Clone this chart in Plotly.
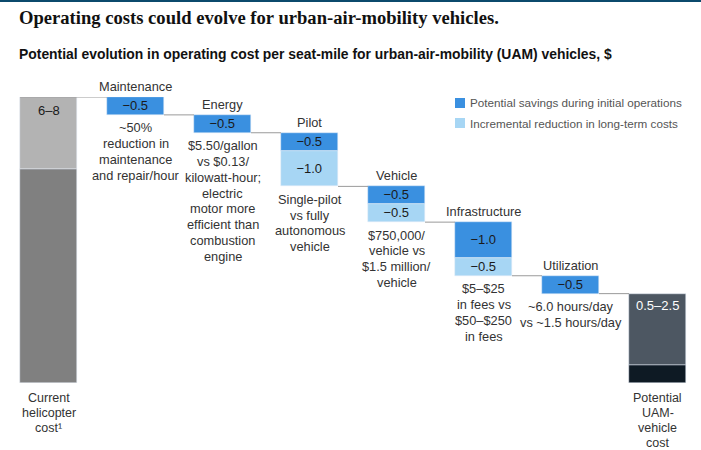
import plotly.graph_objects as go

# ---------------- data ----------------
step_names = ["Maintenance", "Energy", "Pilot", "Vehicle", "Infrastructure", "Utilization"]
initial_savings = [0.5, 0.5, 0.5, 0.5, 1.0, 0.5]      # potential savings during initial operations
longterm_savings = [0.0, 0.0, 1.0, 0.5, 0.5, 0.0]     # incremental reduction in long-term costs
current_low, current_high = 6, 8
potential_low, potential_high = 0.5, 2.5
current_label = "6–8"
potential_label = "0.5–2.5"
end_labels = [["Current", "helicopter", "cost¹"], ["Potential", "UAM-", "vehicle", "cost"]]
step_notes = [
    ["~50%", "reduction in", "maintenance", "and repair/hour"],
    ["$5.50/gallon", "vs $0.13/", "kilowatt-hour;", "electric", "motor more", "efficient than", "combustion", "engine"],
    ["Single-pilot", "vs fully", "autonomous", "vehicle"],
    ["$750,000/", "vehicle vs", "$1.5 million/", "vehicle"],
    ["$5–$25", "in fees vs", "$50–$250", "in fees"],
    ["~6.0 hours/day", "vs ~1.5 hours/day"],
]
legend_names = ["Potential savings during initial operations", "Incremental reduction in long-term costs"]
title_text = "Operating costs could evolve for urban-air-mobility vehicles."
subtitle_text = "Potential evolution in operating cost per seat-mile for urban-air-mobility (UAM) vehicles, $"

# ---------------- styles ----------------
C_DARK = "#3a90e0"
C_LIGHT = "#a7d6f4"
C_GRAY_D = "#808080"
C_GRAY_L = "#b3b3b3"
C_SLATE = "#4d5762"
C_NAVY = "#0e1a24"
TXT = "#333333"
FONT = "Liberation Sans, Arial, sans-serif"
FS = 12.8
W = 0.655
n_steps = len(step_names)
x_steps = list(range(1, n_steps + 1))
x_end = n_steps + 1

def fmt(v):
    return "−" + f"{v:.1f}"

# cumulative levels
tops, dark_base, light_base, bottoms = [], [], [], []
level = current_high
for s, l in zip(initial_savings, longterm_savings):
    tops.append(level)
    dark_base.append(level - s)
    light_base.append(level - s - l)
    level = level - s - l
    bottoms.append(level)

fig = go.Figure()
# current helicopter cost
fig.add_bar(x=[0], y=[current_low], base=[0], marker_color=C_GRAY_D, width=W, showlegend=False, hoverinfo="skip")
fig.add_bar(x=[0], y=[current_high - current_low], base=[current_low], marker_color=C_GRAY_L, width=W, showlegend=False, hoverinfo="skip")
# potential UAM cost
fig.add_bar(x=[x_end], y=[potential_low], base=[0], marker_color=C_NAVY, width=W, showlegend=False, hoverinfo="skip")
fig.add_bar(x=[x_end], y=[potential_high - potential_low], base=[potential_low], marker_color=C_SLATE, width=W, showlegend=False, hoverinfo="skip")
# initial savings
fig.add_bar(x=x_steps, y=initial_savings, base=dark_base, marker_color=C_DARK, width=W,
            text=[fmt(v) for v in initial_savings], textposition="inside", insidetextanchor="middle",
            constraintext="none", textangle=0,
            textfont=dict(size=13, color="#1a1a1a", family=FONT), name=legend_names[0], showlegend=False, hoverinfo="skip")
# long-term savings
lx = [x for x, l in zip(x_steps, longterm_savings) if l > 0]
ly = [l for l in longterm_savings if l > 0]
lb = [b for b, l in zip(light_base, longterm_savings) if l > 0]
fig.add_bar(x=lx, y=ly, base=lb, marker_color=C_LIGHT, width=W,
            text=[fmt(v) for v in ly], textposition="inside", insidetextanchor="middle",
            constraintext="none", textangle=0,
            textfont=dict(size=13, color="#1a1a1a", family=FONT), name=legend_names[1], showlegend=False, hoverinfo="skip")

shapes = []
# connectors
for i, t in zip(x_steps, tops):
    shapes.append(dict(type="line", xref="x", yref="y", x0=i - 1 + W / 2, x1=i - W / 2, y0=t, y1=t,
                       line=dict(color="#9a9a9a", width=1)))
shapes.append(dict(type="line", xref="x", yref="y", x0=n_steps + W / 2, x1=x_end - W / 2,
                   y0=potential_high, y1=potential_high, line=dict(color="#9a9a9a", width=1)))
shapes.append(dict(type="line", xref="x", yref="y", x0=-W / 2, x1=W / 2,
                   y0=current_high, y1=current_high, line=dict(color="#9a9a9a", width=1)))

annotations = []

def add_lines(x, y, lines, first, step, size, color):
    for k, ln in enumerate(lines):
        annotations.append(dict(x=x, y=y, xref="x", yref="y", text=ln, showarrow=False,
                                yanchor="middle", yshift=-(first + k * step),
                                font=dict(size=size, color=color, family=FONT)))

for i, name, t, b, note in zip(x_steps, step_names, tops, bottoms, step_notes):
    annotations.append(dict(x=i, y=t, xref="x", yref="y", text=name, showarrow=False, yanchor="middle",
                            yshift=10.5, font=dict(size=FS, color=TXT, family=FONT)))
    add_lines(i, b, note, 13, 15.8, FS, TXT)
annotations.append(dict(x=0, y=current_high, xref="x", yref="y", text=current_label, showarrow=False,
                        yanchor="middle", yshift=-13, font=dict(size=13, color="#1a1a1a", family=FONT)))
annotations.append(dict(x=x_end, y=potential_high, xref="x", yref="y", text=potential_label, showarrow=False,
                        yanchor="middle", yshift=-11.5, font=dict(size=13, color="white", family=FONT)))
add_lines(0, 0, end_labels[0], 15, 15, 12.5, TXT)
add_lines(x_end, 0, end_labels[1], 15, 15, 12.5, TXT)

# pixel helpers (plot area: x 5..701, y 97..383)
def px(p):
    return (p - 5) / 696.0
def py(p):
    return (383 - p) / 286.0

# legend (squares + text)
for k, (nm, col) in enumerate(zip(legend_names, [C_DARK, C_LIGHT])):
    yc = 103 + 20 * k
    shapes.append(dict(type="rect", xref="paper", yref="paper", x0=px(455), x1=px(465),
                       y0=py(yc + 5), y1=py(yc - 5), fillcolor=col, line=dict(width=0)))
    annotations.append(dict(x=px(468), y=py(yc), xref="paper", yref="paper", text=nm, showarrow=False,
                            xanchor="left", yanchor="middle", font=dict(size=11.7, color="#555555", family=FONT)))

# top border line
shapes.append(dict(type="rect", xref="paper", yref="paper", x0=px(0), x1=px(701), y0=py(2), y1=py(0),
                   fillcolor="#0b4a6c", line=dict(width=0)))

# title & subtitle
annotations.append(dict(x=px(17), y=py(18), xref="paper", yref="paper", text="<b>" + title_text + "</b>",
                        showarrow=False, xanchor="left", yanchor="middle",
                        font=dict(size=18.6, color="#111111", family="Liberation Serif, DejaVu Serif, serif")))
annotations.append(dict(x=px(17), y=py(54), xref="paper", yref="paper", text="<b>" + subtitle_text + "</b>",
                        showarrow=False, xanchor="left", yanchor="middle",
                        font=dict(size=13.9, color="#111111", family=FONT)))

fig.update_layout(
    width=701, height=450,
    margin=dict(l=5, r=0, t=97, b=67),
    paper_bgcolor="white", plot_bgcolor="white",
    barmode="overlay", bargap=0,
    showlegend=False,
    xaxis=dict(range=[-0.5, x_end + 0.5], visible=False, fixedrange=True),
    yaxis=dict(range=[0, current_high], visible=False, fixedrange=True),
    shapes=shapes, annotations=annotations,
    font=dict(family=FONT, color=TXT),
)

fig.write_html("out.html", config={"displayModeBar": False},
               post_script="document.body.style.margin='0';document.body.style.overflow='hidden';")
